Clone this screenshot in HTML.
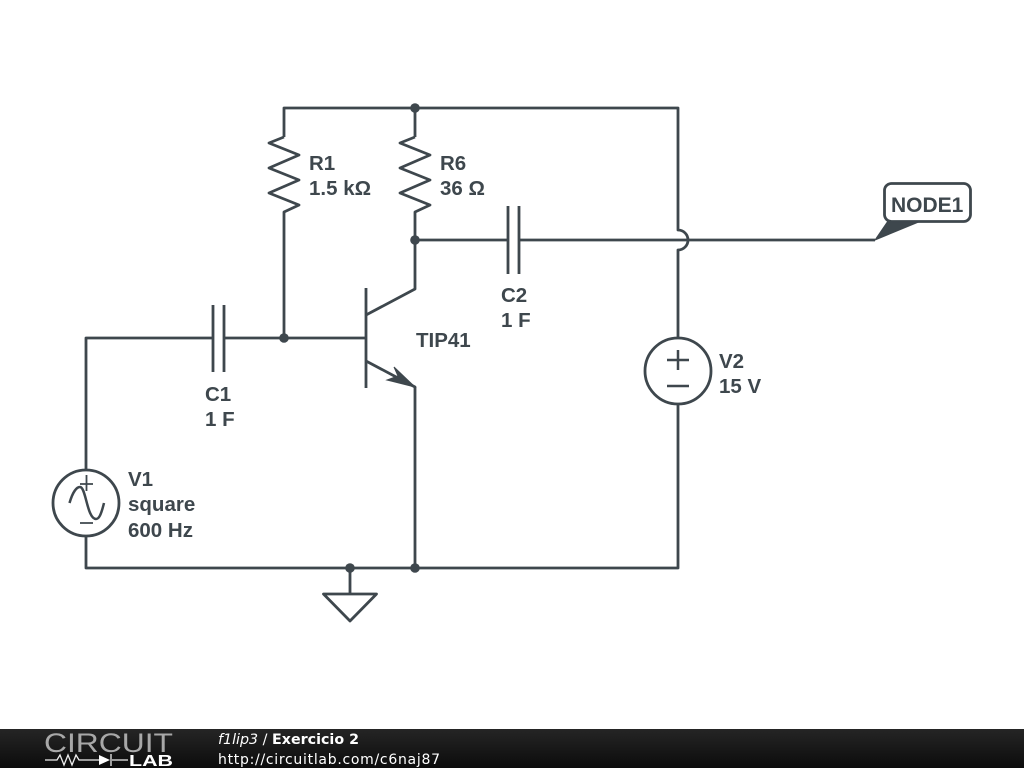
<!DOCTYPE html>
<html><head><meta charset="utf-8"><style>
html,body{margin:0;padding:0;background:#fff;width:1024px;height:768px;overflow:hidden}
svg{display:block}
.w{fill:none;stroke:#3e474d;stroke-width:2.800;stroke-linejoin:round}
.t{font-family:"Liberation Sans",sans-serif;font-weight:bold;font-size:20.500px;fill:#3e474d}
.f{font-family:"DejaVu Sans",sans-serif;font-size:14px;fill:#fff}
</style></head><body>
<svg width="1024" height="768" viewBox="0 0 1024 768" xmlns="http://www.w3.org/2000/svg">
<defs><linearGradient id="g" x1="0" y1="0" x2="0" y2="1"><stop offset="0" stop-color="#252525"/><stop offset="1" stop-color="#0c0c0c"/></linearGradient></defs>
<path class="w" d="M284 137V108H678V230A10 10 0 0 1 678 250V338M415 108V137"/>
<path class="w" d="M284 137L269 143L299 155L269 168L299 180L269 193L299 205L284 212V338"/>
<path class="w" d="M415 137L400 143L430 155L400 168L430 180L400 193L430 205L415 212V289L366 315"/>
<path class="w" d="M415 240H508M508 206V274M519 206V274M519 240H875"/>
<path class="w" d="M86 470V338H213M213 305V372M224 305V372M224 338H366M366 288V388"/>
<path class="w" d="M366 361L415 387V568M86 536V568H678V404M350 568V594"/>
<path d="M415 387L394 367L398 376L387 380Z" fill="#3e474d" stroke="#3e474d" stroke-width="1"/>
<path class="w" d="M323.500 594H376.500L350 621Z"/>
<circle class="w" cx="678" cy="371" r="33"/>
<path class="w" d="M678 350V370M667 360H689M667 386H689" style="stroke-width:2.500"/>
<circle class="w" cx="86" cy="503" r="33"/>
<path class="w" d="M86.500 475V491M80 484H93M80 523H93" style="stroke-width:1.800"/>
<path class="w" d="M69.500 503C73 491 77 487 80 487C86 487 87 519 96 519C99 519 101 515 104 503" style="stroke-width:2.500"/>
<g fill="#3e474d"><circle cx="415" cy="108" r="4.800"/><circle cx="415" cy="240" r="4.800"/><circle cx="284" cy="338" r="4.800"/><circle cx="350" cy="568" r="4.800"/><circle cx="415" cy="568" r="4.800"/></g>
<path d="M875 240L888 221H921Z" fill="#3e474d" stroke="#3e474d" stroke-width="1"/>
<rect x="884.500" y="183.500" width="86" height="38" rx="7" fill="#fff" stroke="#3e474d" stroke-width="2.800"/>
<text class="t" x="891" y="212" style="font-size:21px">NODE1</text>
<text class="t" x="309" y="170">R1</text><text class="t" x="309" y="195">1.5 kΩ</text>
<text class="t" x="440" y="170">R6</text><text class="t" x="440" y="195">36 Ω</text>
<text class="t" x="501" y="302">C2</text><text class="t" x="501" y="327">1 F</text>
<text class="t" x="416" y="347">TIP41</text>
<text class="t" x="205" y="401">C1</text><text class="t" x="205" y="426">1 F</text>
<text class="t" x="719" y="368">V2</text><text class="t" x="719" y="393">15 V</text>
<text class="t" x="128" y="486">V1</text><text class="t" x="128" y="511">square</text><text class="t" x="128" y="537">600 Hz</text>
<rect x="0" y="729" width="1024" height="39" fill="url(#g)"/>
<text x="44" y="752" textLength="129" lengthAdjust="spacingAndGlyphs" style="font-family:'Liberation Sans',sans-serif;font-size:27px;fill:#a8a8a8">CIRCUIT</text>
<path d="M45 760H57L60 755L64 765L68 755L72 765L76 755L79 760H99M128 760H112M111 754V766" fill="none" stroke="#eee" stroke-width="1.300"/>
<path d="M99 755L110 760L99 765Z" fill="#fff"/>
<text x="129" y="766" textLength="44" lengthAdjust="spacingAndGlyphs" style="font-family:'Liberation Sans',sans-serif;font-weight:bold;font-size:16px;fill:#fff">LAB</text>
<text class="f" x="218" y="744" textLength="141" lengthAdjust="spacingAndGlyphs"><tspan font-style="italic">f1lip3</tspan> / <tspan font-weight="bold">Exercicio 2</tspan></text>
<text class="f" x="218" y="764" textLength="222">http://circuitlab.com/c6naj87</text>
</svg>
</body></html>
